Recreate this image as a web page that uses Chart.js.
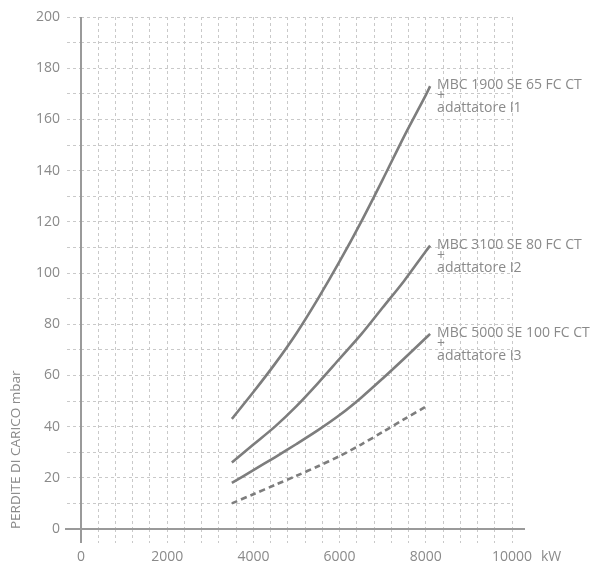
<!DOCTYPE html>
<html>
<head>
<meta charset="utf-8">
<script src="https://cdn.jsdelivr.net/npm/chart.js@4"></script>
<style>
  html, body { margin: 0; padding: 0; background: #fff; }
  #wrap { width: 598px; height: 561px; }
</style>
</head>
<body>
<div id="wrap"><canvas id="lossChart" width="598" height="561"></canvas></div>
<script>
// potenza (kW) e perdite di carico (mbar)
var kw       = [3500, 4000, 4500, 5000, 5500, 6000, 6500, 7000, 7500, 8000, 8100];
var kwDashed = [3500, 4000, 4500, 5000, 5500, 6000, 6500, 7000, 7500, 8000];
var lossI1     = [43, 53.5, 64.5, 76.5, 90, 104.5, 120, 136.5, 153.5, 169.5, 173];
var lossI2     = [26, 33, 40, 48, 57, 66.5, 76, 86.5, 97, 108.5, 110.7];
var lossI3     = [18, 23, 28, 33.2, 38.6, 44.5, 51.3, 58.8, 66.6, 74.6, 76.2];
var lossDashed = [10, 13.6, 17.2, 20.8, 24.5, 28.5, 33, 37.9, 42.9, 47.8];

var labelI1 = ["MBC 1900 SE 65 FC CT", "+", "adattatore I1"];
var labelI2 = ["MBC 3100 SE 80 FC CT", "+", "adattatore I2"];
var labelI3 = ["MBC 5000 SE 100 FC CT", "+", "adattatore I3"];

var xMin = 0, xMax = 10000, xStep = 400, xLabelEvery = 2000;
var yMin = 0, yMax = 200, yStep = 10, yLabelEvery = 20;
var xUnit = "kW";
var yTitle = "PERDITE DI CARICO mbar";

var textColor = "#8a8a8a";
var lineColor = "#7d7d7d";
var gridColor = "#c9c9c9";
var fontFamily = "'Open Sans', 'Noto Sans', sans-serif";
var fontSize = 14;

function points(xs, ys) {
    return xs.map(function (x, i) { return {x: x, y: ys[i]}; });
}

function series(xs, ys, dash, names) {
    return {
        data: points(xs, ys),
        borderColor: lineColor,
        borderWidth: 2.6,
        borderDash: dash,
        pointRadius: 0,
        fill: false,
        tension: 0.3,
        endLabel: names
    };
}

// assi con prolungamenti e etichette delle curve
var decorations = {
    id: "decorations",
    beforeDatasetsDraw: function (chart) {
        var ctx = chart.ctx, a = chart.chartArea;
        var xs = chart.scales.x, ys = chart.scales.y;
        var x0 = xs.getPixelForValue(0), y0 = ys.getPixelForValue(0);
        ctx.save();
        ctx.strokeStyle = "#9a9a9a";
        ctx.lineWidth = 2;
        ctx.beginPath();
        ctx.moveTo(a.left - 16, y0);
        ctx.lineTo(a.right + 13, y0);
        ctx.moveTo(x0, a.top);
        ctx.lineTo(x0, a.bottom + 14);
        ctx.stroke();
        ctx.restore();
    },
    afterDatasetsDraw: function (chart) {
        var ctx = chart.ctx, a = chart.chartArea;
        ctx.save();
        ctx.fillStyle = textColor;
        ctx.font = fontSize + "px " + fontFamily;
        ctx.textBaseline = "middle";
        ctx.textAlign = "left";
        chart.data.datasets.forEach(function (ds, i) {
            if (!ds.endLabel) return;
            var pts = chart.getDatasetMeta(i).data;
            var last = pts[pts.length - 1];
            var offs = [-1, 10, 22];
            ds.endLabel.forEach(function (t, j) {
                ctx.fillText(t, last.x + 7, last.y + offs[j]);
            });
        });
        // unità dell'asse x, sulla stessa riga delle etichette
        ctx.textBaseline = "top";
        ctx.fillText(xUnit, a.right + 29, a.bottom + 21);
        ctx.restore();
    }
};

var ctx = document.getElementById("lossChart").getContext("2d");
var chart = new Chart(ctx, {
    type: "line",
    data: {
        datasets: [
            series(kw, lossI1, [], labelI1),
            series(kw, lossI2, [], labelI2),
            series(kw, lossI3, [], labelI3),
            series(kwDashed, lossDashed, [6, 4], null)
        ]
    },
    options: {
        responsive: false,
        animation: false,
        layout: { padding: { left: 4, right: 86, top: 17, bottom: 0 } },
        plugins: { legend: { display: false }, tooltip: { enabled: false } },
        scales: {
            x: {
                type: "linear",
                min: xMin,
                max: xMax,
                border: { display: false, dash: [3, 3] },
                grid: { color: gridColor, tickColor: gridColor, tickLength: 14, tickBorderDash: [3, 3] },
                ticks: {
                    stepSize: xStep,
                    maxTicksLimit: 40,
                    autoSkip: false,
                    maxRotation: 0,
                    padding: 6,
                    color: textColor,
                    font: { family: fontFamily, size: fontSize },
                    callback: function (v) { return v % xLabelEvery === 0 ? v : ""; }
                },
                afterFit: function (s) { s.height = 32; }
            },
            y: {
                min: yMin,
                max: yMax,
                border: { display: false, dash: [3, 3] },
                grid: { color: gridColor, tickColor: gridColor, tickLength: 14, tickBorderDash: [3, 3] },
                ticks: {
                    stepSize: yStep,
                    maxTicksLimit: 40,
                    autoSkip: false,
                    padding: 7,
                    color: textColor,
                    font: { family: fontFamily, size: fontSize },
                    callback: function (v) { return v % yLabelEvery === 0 ? v : ""; }
                },
                title: {
                    display: true,
                    text: yTitle,
                    align: "start",
                    color: textColor,
                    font: { family: fontFamily, size: 13.5 },
                    padding: { top: 4, bottom: 0 }
                },
                afterFit: function (s) { s.width = 77; }
            }
        }
    },
    plugins: [decorations]
});
</script>
</body>
</html>
